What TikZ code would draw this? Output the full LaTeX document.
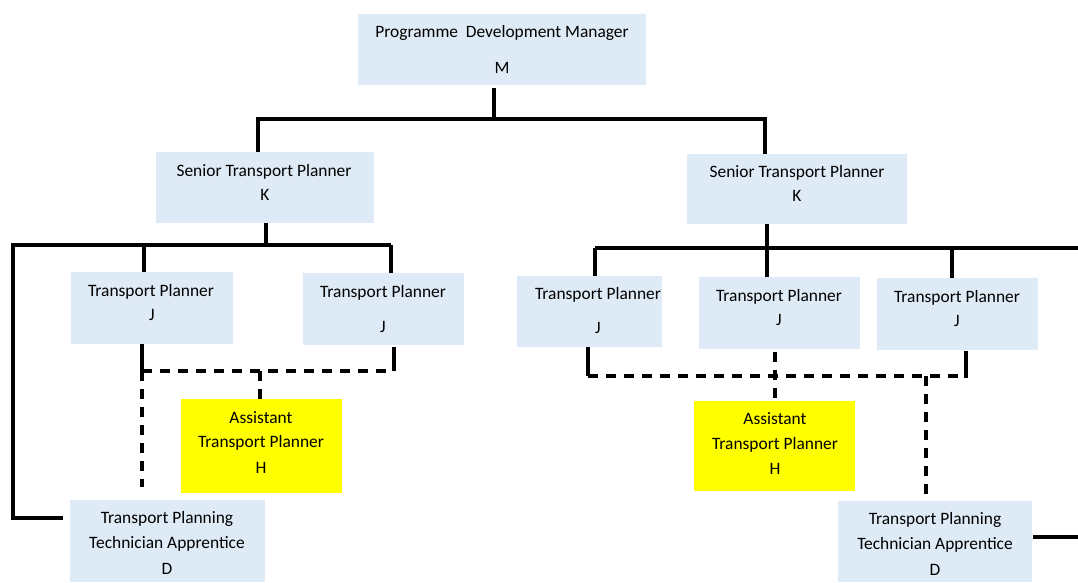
\documentclass[tikz,border=0pt]{standalone}
\usepackage{fontspec}
\setmainfont{Carlito}
\definecolor{boxblue}{RGB}{222,234,246}
\definecolor{boxyellow}{RGB}{255,255,0}
\begin{document}
\begin{tikzpicture}[x=1pt,y=-1pt,
  box/.style={fill=boxblue, draw=none, inner sep=0pt},
  ybox/.style={fill=boxyellow, draw=none, inner sep=0pt},
  txt/.style={anchor=base, inner sep=0pt, font=\fontsize{17.4}{20}\selectfont},
  conn/.style={line width=3.4pt, black},
  dconn/.style={line width=3.4pt, black, dash pattern=on 10pt off 8pt}]
\useasboundingbox (0,0) rectangle (1078,582);
% boxes
\node[box, minimum width=288pt, minimum height=71pt] (M) at (502,49.5) {};
\node[box, minimum width=218pt, minimum height=71pt] (K1) at (265,187.5) {};
\node[box, minimum width=220pt, minimum height=70pt] (K2) at (797,189) {};
\node[box, minimum width=162pt, minimum height=72pt] (TP1) at (152,308) {};
\node[box, minimum width=161pt, minimum height=72pt] (TP2) at (383.5,309) {};
\node[ybox, minimum width=161pt, minimum height=94pt] (H1) at (261.5,446) {};
\node[box, minimum width=195pt, minimum height=82pt] (D1) at (167.5,541) {};
\node[box, minimum width=145pt, minimum height=71pt] (TP3) at (589.5,311.5) {};
\node[box, minimum width=161pt, minimum height=72pt] (TP4) at (779.5,313) {};
\node[box, minimum width=161pt, minimum height=72pt] (TP5) at (957.5,314) {};
\node[ybox, minimum width=161pt, minimum height=90pt] (H2) at (774.5,446) {};
\node[box, minimum width=194pt, minimum height=81pt] (D2) at (935,541.5) {};
% texts
\node[txt] (tM1) at (502,37) {Programme~ Development Manager};
\node[txt] (tM2) at (502,73) {M};
\node[txt] (tK1a) at (264,176) {Senior Transport Planner};
\node[txt] (tK1b) at (265,200) {K};
\node[txt] (tK2a) at (797,177) {Senior Transport Planner};
\node[txt] (tK2b) at (797,201) {K};
\node[txt] (tTP1a) at (151,296) {Transport Planner};
\node[txt] (tTP1b) at (152,320) {J};
\node[txt] (tTP2a) at (383,297) {Transport Planner};
\node[txt] (tTP2b) at (383,332) {J};
\node[txt] (tH1a) at (261,423) {Assistant};
\node[txt] (tH1b) at (261,447.5) {Transport Planner};
\node[txt] (tH1c) at (261,473.5) {H};
\node[txt] (tD1a) at (167,523) {Transport Planning};
\node[txt] (tD1b) at (167,548) {Technician Apprentice};
\node[txt] (tD1c) at (167,574) {D};
\node[txt] (tTP3a) at (598,299) {Transport Planner};
\node[txt] (tTP3b) at (598,333) {J};
\node[txt] (tTP4a) at (779,301) {Transport Planner};
\node[txt] (tTP4b) at (779,325) {J};
\node[txt] (tTP5a) at (957,302) {Transport Planner};
\node[txt] (tTP5b) at (957,326) {J};
\node[txt] (tH2a) at (775,424) {Assistant};
\node[txt] (tH2b) at (775,449) {Transport Planner};
\node[txt] (tH2c) at (775,474) {H};
\node[txt] (tD2a) at (935,524) {Transport Planning};
\node[txt] (tD2b) at (935,549) {Technician Apprentice};
\node[txt] (tD2c) at (935,575) {D};
% junction coordinates
\coordinate (jM) at (494,119);
\coordinate (jMl) at (258,119);
\coordinate (jMr) at (765,119);
\coordinate (jK1) at (266,245);
\coordinate (jK1l) at (13,245);
\coordinate (jTP1) at (144,245);
\coordinate (jTP2) at (391,245);
\coordinate (cD1) at (63,518);
\coordinate (dTP1) at (142,371);
\coordinate (dTP2) at (394,371);
\coordinate (dH1) at (260,371);
\coordinate (dD1) at (142,487);
\coordinate (jK2) at (767,248);
\coordinate (jTP3) at (595,248);
\coordinate (jTP5) at (952,248);
\coordinate (jK2r) at (1078,248);
\coordinate (dTP3) at (588,376);
\coordinate (dTP5) at (966,376);
\coordinate (dH2) at (775,376);
\coordinate (dD2) at (926,376);
\coordinate (eD2) at (1078,537);
% level 1
\draw[conn] ([yshift=-3pt]M.south -| jM) -- (jM);
\draw[conn] (K1.north -| jMl) -- (jMl) -- (jMr) -- (K2.north -| jMr);
% left group
\draw[conn] (K1.south -| jK1) -- (jK1);
\draw[conn] (TP1.north -| jTP1) -- (jTP1);
\draw[conn] (TP2.north -| jTP2) -- (jTP2);
\draw[conn] (jTP2) -- (jK1l) -- (cD1 -| jK1l) -- (cD1);
\draw[conn] (TP1.south -| dTP1) -- (dTP1);
\draw[conn] ([yshift=-2pt]TP2.south -| dTP2) -- (dTP2);
\draw[dconn] (dTP1) -- (dTP2);
\draw[dconn] (dH1) -- (H1.north -| dH1);
\draw[dconn] (dTP1) -- (dD1);
% right group
\draw[conn] (K2.south -| jK2) -- (jK2);
\draw[conn] (jTP3) -- (jK2r);
\draw[conn] (TP3.north -| jTP3) -- (jTP3);
\draw[conn] (TP4.north -| jK2) -- (jK2);
\draw[conn] (TP5.north -| jTP5) -- (jTP5);
\draw[conn] (TP3.south -| dTP3) -- (dTP3);
\draw[conn] ([yshift=-1pt]TP5.south -| dTP5) -- ([yshift=-2pt]dTP5);
\draw[dconn] (dTP3) -- (dTP5);
\draw[dconn] ([yshift=-3pt]TP4.south -| dH2) -- (H2.north -| dH2);
\draw[dconn] (dD2) -- ([yshift=6pt]D2.north -| dD2);
\draw[conn] ([xshift=1pt]D2.east |- eD2) -- (eD2);
\end{tikzpicture}
\end{document}
